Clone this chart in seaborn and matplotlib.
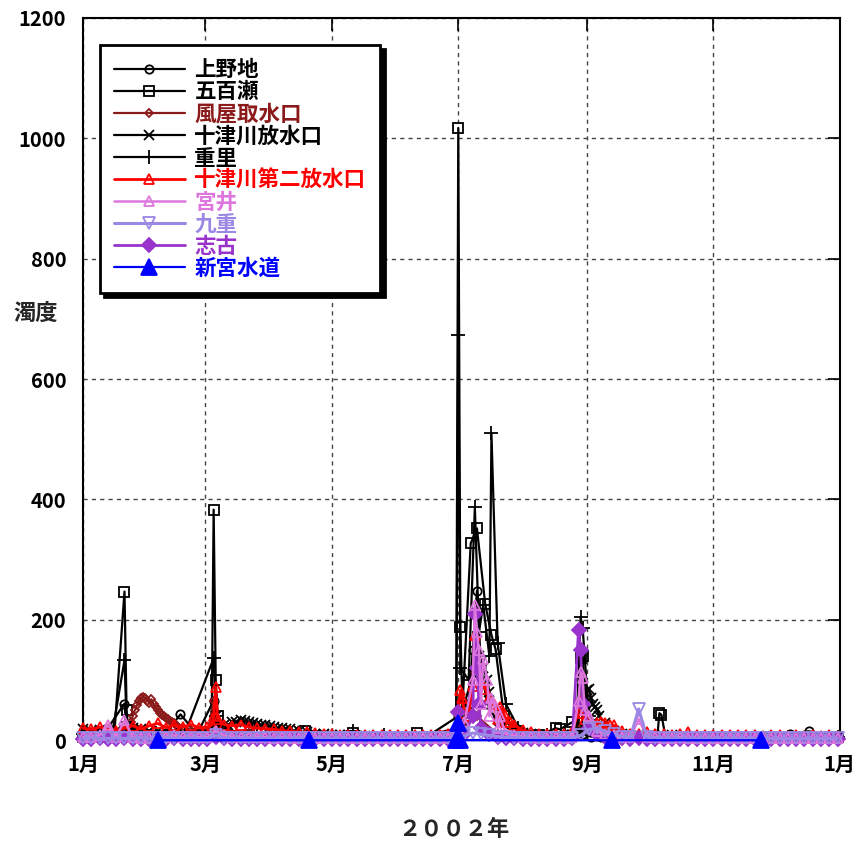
import matplotlib
matplotlib.use("Agg")
import matplotlib.pyplot as plt
import seaborn as sns
import pandas as pd

# ---------------- data (day of year 2002, 0 = Jan 1) ----------------
GRID = list(range(0, 365, 4))  # sampling days of the routine series

ueno_days = [0, 10, 20, 21, 30, 40, 47, 55, 63, 64, 70, 80, 90, 100, 110, 120, 135, 150, 165, 181,
             183, 186, 188, 190, 192, 195, 200, 210, 220, 230, 240, 241, 245, 250, 260, 275, 290, 305,
             320, 335, 341, 350, 364]
ueno_vals = [8, 10, 61, 15, 10, 12, 43, 10, 66, 20, 12, 8, 6, 5, 5, 4, 4, 3, 4, 40,
             30, 60, 150, 248, 120, 60, 30, 10, 5, 4, 15, 10, 6, 5, 4, 3, 3, 3,
             3, 4, 10, 15, 5]

iose_days = [0, 15, 20, 21, 22, 35, 50, 62, 63, 64, 65, 66, 80, 95, 107, 130, 161, 175, 180, 181, 182, 183,
             187, 190, 194, 197, 199, 203, 210, 220, 228, 230, 236, 239, 240, 241, 243, 255, 277, 278,
             279, 281, 300, 330, 364]
iose_vals = [5, 6, 247, 50, 10, 6, 5, 8, 383, 100, 40, 12, 8, 6, 15, 12, 12, 6, 8, 1017, 188, 55,
             327, 352, 226, 175, 151, 40, 15, 8, 20, 18, 30, 20, 136, 140, 30, 8, 5, 45,
             42, 5, 6, 5, 5]

kazaya_days = [0, 4, 8, 12, 16, 20, 22, 23, 24, 25, 26, 27, 28, 29, 30, 31, 32, 33, 34, 35, 36, 37, 38,
               39, 40, 41, 42, 43, 44, 45, 46, 48, 52, 56, 60, 63, 64, 66, 70, 80, 90, 100, 120, 140,
               160, 181, 190, 200, 220, 240, 260, 280, 300, 320, 340, 364]
kazaya_vals = [12, 13, 12, 14, 13, 15, 20, 30, 40, 50, 58, 65, 70, 72, 70, 66, 62, 68, 60, 55, 50, 46, 42,
               40, 37, 35, 32, 30, 28, 25, 22, 18, 15, 14, 13, 65, 30, 20, 15, 12, 10, 8, 6, 5,
               5, 20, 40, 10, 6, 20, 6, 5, 5, 4, 4, 4]

totsu_grid = [18, 16, 17, 15, 16, 18, 20, 18,
              16, 15, 14, 13, 12, 12, 12,
              12, 40, 20, 28, 33, 30, 27, 25,
              22, 20, 18, 16, 13, 11, 10,
              9, 8, 8, 7, 7, 6, 6, 6,
              5, 5, 6, 5, 5, 6, 6, 8,
              60, 110, 130, 80, 45, 30, 18,
              12, 10, 8, 7, 6, 6, 8, 15,
              85, 50, 28, 15, 10, 8, 8, 7,
              7, 6, 8, 6, 5, 5, 5,
              5, 5, 4, 5, 5, 4, 4, 5,
              4, 5, 4, 5, 4, 4, 5, 4]
totsu_ev_days = [66, 68, 70, 72, 74, 78, 82, 86, 90, 94, 98, 102, 106, 191, 193, 195, 205, 242, 243, 245,
                 246, 247, 249]
totsu_ev_vals = [22, 26, 25, 30, 31, 32, 29, 26, 23, 21, 18, 15, 12, 140, 120, 100, 32, 60, 83, 70,
                 60, 55, 40]

shigesato_days = [0, 14, 20, 21, 35, 49, 63, 64, 70, 84, 98, 112, 130, 145, 160, 175, 180, 181, 182, 186,
                  189, 191, 193, 196, 197, 200, 204, 210, 224, 238, 240, 241, 244, 255, 270, 280, 300, 320,
                  340, 364]
shigesato_vals = [10, 10, 133, 30, 12, 10, 136, 40, 15, 12, 10, 8, 15, 8, 6, 6, 10, 673, 120, 100,
                  387, 180, 225, 140, 510, 161, 60, 20, 8, 15, 205, 186, 40, 10, 8, 6, 6, 5,
                  5, 5]

daini_grid = [20, 18, 22, 18, 16, 20, 24, 19,
              24, 28, 21, 25, 22, 26, 21,
              22, 30, 26, 24, 26, 22, 20, 19,
              18, 16, 15, 14, 13, 12, 11,
              10, 9, 9, 8, 9, 8, 8, 9,
              8, 9, 8, 9, 8, 9, 11, 13,
              45, 90, 55, 45, 35, 30, 25,
              17, 13, 11, 11, 10, 11, 13, 45,
              32, 28, 30, 25, 16, 11, 11, 13,
              10, 11, 9, 10, 14, 9, 8,
              9, 8, 8, 9, 8, 8, 7, 8,
              8, 7, 8, 7, 8, 7, 8, 7]
daini_ev_days = [62, 63, 64, 65, 182, 183, 186, 189, 190, 192, 194, 196, 198, 201, 203, 206, 239, 240, 241,
                 242, 250, 252, 254]
daini_ev_vals = [25, 40, 88, 35, 83, 70, 40, 175, 120, 96, 85, 70, 60, 55, 45, 30, 50, 66, 45,
                 35, 30, 28, 25]

miyai_grid = [5, 6, 8, 25, 6, 8, 5, 4,
              4, 5, 6, 8, 5, 6, 5,
              5, 15, 8, 6, 5, 5, 6, 5,
              4, 5, 4, 4, 5, 4, 4,
              3, 4, 3, 3, 4, 3, 3, 4,
              3, 3, 4, 3, 3, 4, 3, 5,
              30, 100, 60, 40, 20, 10, 8,
              6, 5, 4, 4, 5, 4, 5, 20,
              40, 15, 10, 8, 6, 5, 35, 6,
              5, 4, 4, 5, 4, 4, 4,
              4, 3, 4, 4, 3, 4, 4, 3,
              4, 3, 4, 3, 4, 3, 4, 4]
miyai_ev_days = [20, 181, 189, 190, 191, 193, 195, 197, 199, 201, 239, 240, 241, 242]
miyai_ev_vals = [33, 20, 225, 180, 150, 135, 100, 70, 55, 40, 66, 113, 103, 50]

kokonoe_grid = [3, 4, 3, 3, 4, 3, 3, 4,
                3, 3, 4, 3, 3, 4, 3,
                3, 8, 4, 3, 3, 4, 3, 3,
                3, 3, 3, 4, 3, 3, 3,
                3, 3, 3, 3, 3, 3, 3, 3,
                3, 3, 3, 3, 3, 3, 3, 4,
                8, 12, 10, 8, 6, 5, 4,
                4, 3, 3, 3, 3, 3, 4, 8,
                18, 20, 15, 10, 6, 5, 52, 5,
                4, 3, 3, 3, 3, 3, 3,
                3, 3, 3, 3, 3, 3, 3, 3,
                3, 3, 3, 3, 3, 3, 3, 3]

shiko_grid = [2, 2, 3, 2, 2, 3, 2, 2,
              2, 2, 2, 3, 2, 2, 2,
              2, 5, 3, 2, 2, 2, 2, 2,
              2, 2, 2, 2, 2, 2, 2,
              2, 2, 2, 2, 2, 2, 2, 2,
              2, 2, 2, 2, 2, 2, 2, 3,
              10, 40, 20, 10, 5, 3, 3,
              2, 2, 2, 2, 2, 2, 3, 10,
              20, 10, 5, 3, 3, 2, 3, 2,
              2, 2, 2, 2, 2, 2, 2,
              2, 2, 2, 2, 2, 2, 2, 2,
              2, 2, 2, 2, 2, 2, 2, 2]
shiko_ev_days = [181, 182, 189, 190, 191, 239, 240, 241]
shiko_ev_vals = [47, 20, 210, 120, 60, 183, 150, 60]

shingu_days = [36, 109, 180, 181, 182, 255, 327]
shingu_vals = [0, 0, 0, 28, 0, 0, 0]

month_ticks = [0, 59, 120, 181, 243, 304, 365]
month_labels = ["1月", "3月", "5月", "7月", "9月", "11月", "1月"]


def merged(days, vals, ev_days=(), ev_vals=()):
    d = dict(zip(days, vals))
    d.update(zip(ev_days, ev_vals))
    return pd.DataFrame(sorted(d.items()), columns=["day", "value"])


series = [
    ("上野地", merged(ueno_days, ueno_vals), "black", "o", 6, "none", 4, 1.6),
    ("五百瀬", merged(iose_days, iose_vals), "black", "s", 6.5, "none", 4, 1.6),
    ("風屋取水口", merged(kazaya_days, kazaya_vals), "#8B1A1A", "D", 4.5, "none", 4, 1.6),
    ("十津川放水口", merged(GRID, totsu_grid, totsu_ev_days, totsu_ev_vals), "black", "x", 6.5, None, 4, 1.6),
    ("重里", merged(shigesato_days, shigesato_vals), "black", "+", 10, None, 4, 1.6),
    ("十津川第二放水口", merged(GRID, daini_grid, daini_ev_days, daini_ev_vals), "#FF0000", "^", 7.5, "none", 5, 2.0),
    ("宮井", merged(GRID, miyai_grid, miyai_ev_days, miyai_ev_vals), "#DD77DD", "^", 7.5, "none", 7, 1.8),
    ("九重", merged(GRID, kokonoe_grid), "#9A88E4", "v", 8, "none", 8, 2.2),
    ("志古", merged(GRID, shiko_grid, shiko_ev_days, shiko_ev_vals), "#9933CC", "D", 7, None, 6, 2.0),
    ("新宮水道", merged(shingu_days, shingu_vals), "#0000FF", "^", 11, None, 9, 1.6),
]

# ---------------- plot ----------------
sns.set_style("white")
plt.rcParams["font.family"] = ["Noto Sans CJK JP", "DejaVu Sans"]

fig = plt.figure(figsize=(8.56, 8.46), dpi=100)
ax = fig.add_axes([0.097, 0.125, 0.884, 0.854])

for name, df, col, mk, ms, mfc, z, lw in series:
    kw = dict(marker=mk, markersize=ms, markeredgecolor=col, markeredgewidth=1.3,
              linewidth=lw, clip_on=False, zorder=z)
    kw["markerfacecolor"] = col if mfc is None else mfc
    sns.lineplot(data=df, x="day", y="value", ax=ax, color=col, label=name,
                 estimator=None, sort=True, **kw)

ax.set_xlim(0, 365)
ax.set_ylim(0, 1200)
ax.set_xticks(month_ticks)
ax.set_xticklabels(month_labels)
ax.set_yticks(range(0, 1201, 200))
ax.tick_params(axis="both", direction="in", length=9, width=1.2, top=True, right=True,
               labelsize=14.5, colors="black")
ax.tick_params(axis="y", pad=12)
ax.tick_params(axis="x", pad=10)
for lab in ax.get_xticklabels() + ax.get_yticklabels():
    lab.set_fontweight("bold")
ax.grid(True, color="#444444", linestyle=(0, (3, 3)), linewidth=1.0)
for s in ax.spines.values():
    s.set_color("black")
    s.set_linewidth(1.5)

ax.set_ylabel("濁度", rotation=0, fontsize=16, fontweight="bold")
ax.yaxis.set_label_coords(-0.063, 0.575)
ax.set_xlabel("２００２年", fontsize=16, fontweight="bold")
ax.xaxis.set_label_coords(0.49, -0.108)

colors = [s[2] for s in series]
leg = ax.legend(loc="upper left", bbox_to_anchor=(0.022, 0.962),
                prop={"size": 15.5, "weight": "bold"},
                labelcolor=colors, frameon=True, fancybox=False, framealpha=1,
                edgecolor="black", handlelength=3.3, handletextpad=0.45,
                labelspacing=0.05, borderpad=0.65, borderaxespad=0.0,
                shadow={"color": "black", "alpha": 1, "ox": 3, "oy": -3})
leg.get_frame().set_linewidth(2)
leg.set_zorder(20)

fig.savefig("out.png", dpi=100)
